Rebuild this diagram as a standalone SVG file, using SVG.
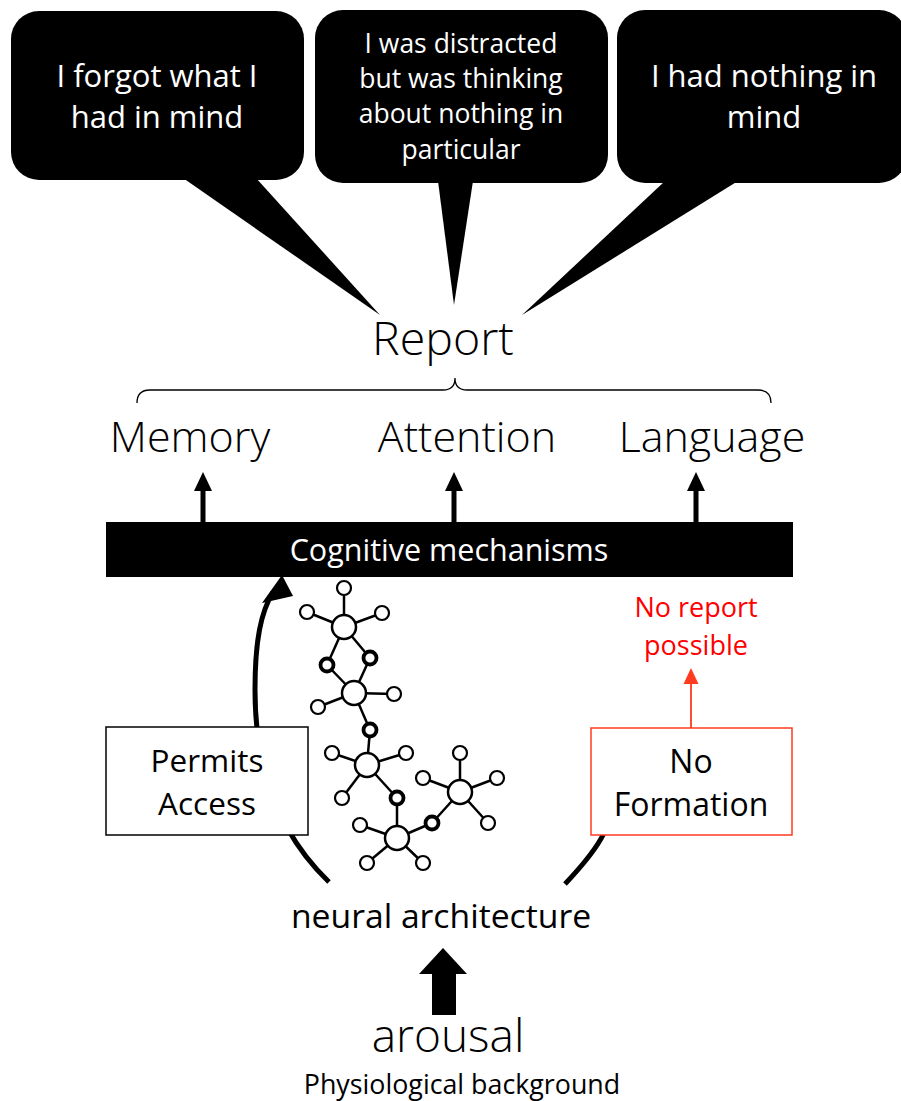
<svg xmlns="http://www.w3.org/2000/svg" width="901" height="1101" viewBox="0 0 901 1101">
<style>
text{font-family:"Open Sans","Noto Sans",sans-serif;text-anchor:middle;}
.bt{fill:#fff;font-size:31px;}
.bt2{fill:#fff;font-size:26.5px;}
.lbl{fill:#000;font-size:43px;font-weight:300;}
.box{fill:#fff;stroke:#000;stroke-width:1.5;}
.edge{stroke:#000;stroke-width:2.5;fill:none;}
.big{fill:#fff;stroke:#000;stroke-width:2.5;}
.sm{fill:#fff;stroke:#000;stroke-width:2.2;}
.th{fill:#fff;stroke:#000;stroke-width:3.8;}
</style>
<rect width="901" height="1101" fill="#fff"/>

<g id="bubble-forgot">
<rect x="11" y="11" width="293" height="169" rx="28" fill="#000"/>
<polygon points="183,178 256,178 380,315" fill="#000"/>
<text class="bt" x="157" y="87">I forgot what I</text>
<text class="bt" x="157" y="128">had in mind</text>
</g>
<g id="bubble-distracted">
<rect x="315" y="10" width="293" height="173" rx="28" fill="#000"/>
<polygon points="438,181 473,181 454,305" fill="#000"/>
<text class="bt2" x="461" y="53">I was distracted</text>
<text class="bt2" x="461" y="88">but was thinking</text>
<text class="bt2" x="461" y="123">about nothing in</text>
<text class="bt2" x="461" y="159">particular</text>
</g>
<g id="bubble-nothing">
<rect x="617" y="10" width="290" height="173" rx="28" fill="#000"/>
<polygon points="665,181 738,181 522,315" fill="#000"/>
<text class="bt" x="764" y="87">I had nothing in</text>
<text class="bt" x="764" y="128">mind</text>
</g>

<g id="report">
<text x="443" y="355" style="font-size:46.5px;font-weight:300">Report</text>
<path d="M137 403 Q137 390 150 390 L443 390 Q455 390 455 378 Q455 390 467 390 L758 390 Q771 390 771 403" fill="none" stroke="#000" stroke-width="1.3"/>
</g>

<g id="memory"><text class="lbl" x="190" y="452">Memory</text></g>
<g id="attention"><text class="lbl" x="467" y="452">Attention</text></g>
<g id="language"><text class="lbl" x="712" y="452">Language</text></g>

<g id="connectors">
<g fill="#000" stroke="none">
<rect x="200.5" y="488" width="5" height="36"/>
<polygon points="203,472 194,491 212,491"/>
<rect x="451.5" y="488" width="5" height="36"/>
<polygon points="454,472 445,491 463,491"/>
<rect x="693.5" y="488" width="5" height="36"/>
<polygon points="696,472 687,491 705,491"/>
</g>
<path d="M329 882 C280 835 255 770 255 690 C255 640 261 612 273 592" fill="none" stroke="#000" stroke-width="5"/>
<polygon points="282,575 262,603 293,596" fill="#000"/>
<path d="M565 884 C582 866 596 850 604 833" fill="none" stroke="#000" stroke-width="5"/>
<line x1="691" y1="728" x2="691" y2="682" stroke="#FF4D33" stroke-width="2"/>
<polygon points="691,668 683.5,684 698.5,684" fill="#FF3B1F"/>
<g fill="#000">
<rect x="432" y="971" width="24" height="44"/>
<polygon points="443,948 419,974 467,974"/>
</g>
</g>

<g id="cognitive-mechanisms">
<rect x="106" y="522" width="687" height="55" fill="#000"/>
<text x="449" y="561" style="font-size:30.5px;fill:#fff">Cognitive mechanisms</text>
</g>

<g id="permits-access">
<rect class="box" x="106" y="727" width="202" height="108"/>
<text x="207" y="772" style="font-size:31.5px">Permits</text>
<text x="207" y="815" style="font-size:31.5px">Access</text>
</g>

<g id="no-formation">
<rect x="591" y="728" width="201" height="107" fill="#fff" stroke="#FF3B1F" stroke-width="1.5"/>
<text x="691" y="773" style="font-size:32px">No</text>
<text x="691" y="816" style="font-size:32px">Formation</text>
</g>

<g id="no-report">
<text x="696" y="617" style="font-size:27px;fill:#FF0000">No report</text>
<text x="696" y="655" style="font-size:27px;fill:#FF0000">possible</text>
</g>

<g id="network">
<g class="edge">
<line x1="344" y1="627" x2="344" y2="588"/>
<line x1="344" y1="627" x2="307" y2="612"/>
<line x1="344" y1="627" x2="382" y2="613"/>
<line x1="344" y1="627" x2="327" y2="665"/>
<line x1="344" y1="627" x2="370" y2="658"/>
<line x1="327" y1="665" x2="354" y2="693"/>
<line x1="370" y1="658" x2="354" y2="693"/>
<line x1="354" y1="693" x2="318" y2="707"/>
<line x1="354" y1="693" x2="394" y2="694"/>
<line x1="354" y1="693" x2="370" y2="730"/>
<line x1="370" y1="730" x2="367" y2="765"/>
<line x1="367" y1="765" x2="332" y2="753"/>
<line x1="367" y1="765" x2="406" y2="753"/>
<line x1="367" y1="765" x2="342" y2="798"/>
<line x1="367" y1="765" x2="397" y2="798"/>
<line x1="397" y1="798" x2="397" y2="838"/>
<line x1="397" y1="838" x2="360" y2="825"/>
<line x1="397" y1="838" x2="367" y2="863"/>
<line x1="397" y1="838" x2="423" y2="863"/>
<line x1="397" y1="838" x2="432" y2="823"/>
<line x1="432" y1="823" x2="460" y2="792"/>
<line x1="460" y1="792" x2="460" y2="753"/>
<line x1="460" y1="792" x2="423" y2="778"/>
<line x1="460" y1="792" x2="497" y2="778"/>
<line x1="460" y1="792" x2="488" y2="823"/>
</g>
<circle class="big" cx="344" cy="627" r="12"/>
<circle class="big" cx="354" cy="693" r="12"/>
<circle class="big" cx="367" cy="765" r="12"/>
<circle class="big" cx="460" cy="792" r="12"/>
<circle class="big" cx="397" cy="838" r="12"/>
<circle class="sm" cx="344" cy="588" r="7"/>
<circle class="sm" cx="307" cy="612" r="7"/>
<circle class="sm" cx="382" cy="613" r="7"/>
<circle class="th" cx="327" cy="665" r="6.5"/>
<circle class="th" cx="370" cy="658" r="6.5"/>
<circle class="sm" cx="318" cy="707" r="7"/>
<circle class="sm" cx="394" cy="694" r="7"/>
<circle class="th" cx="370" cy="730" r="6.5"/>
<circle class="sm" cx="332" cy="753" r="7"/>
<circle class="sm" cx="406" cy="753" r="7"/>
<circle class="sm" cx="342" cy="798" r="7"/>
<circle class="th" cx="397" cy="798" r="6.5"/>
<circle class="sm" cx="360" cy="825" r="7"/>
<circle class="sm" cx="367" cy="863" r="7"/>
<circle class="sm" cx="423" cy="863" r="7"/>
<circle class="th" cx="432" cy="823" r="6.5"/>
<circle class="sm" cx="460" cy="753" r="7"/>
<circle class="sm" cx="423" cy="778" r="7"/>
<circle class="sm" cx="497" cy="778" r="7"/>
<circle class="sm" cx="488" cy="823" r="7"/>
</g>

<g id="neural-architecture"><text x="441" y="928" style="font-size:33.7px">neural architecture</text></g>
<g id="arousal"><text x="448" y="1052" style="font-size:46px;font-weight:300">arousal</text></g>
<g id="physiological"><text x="462" y="1094" style="font-size:26.8px">Physiological background</text></g>
</svg>
